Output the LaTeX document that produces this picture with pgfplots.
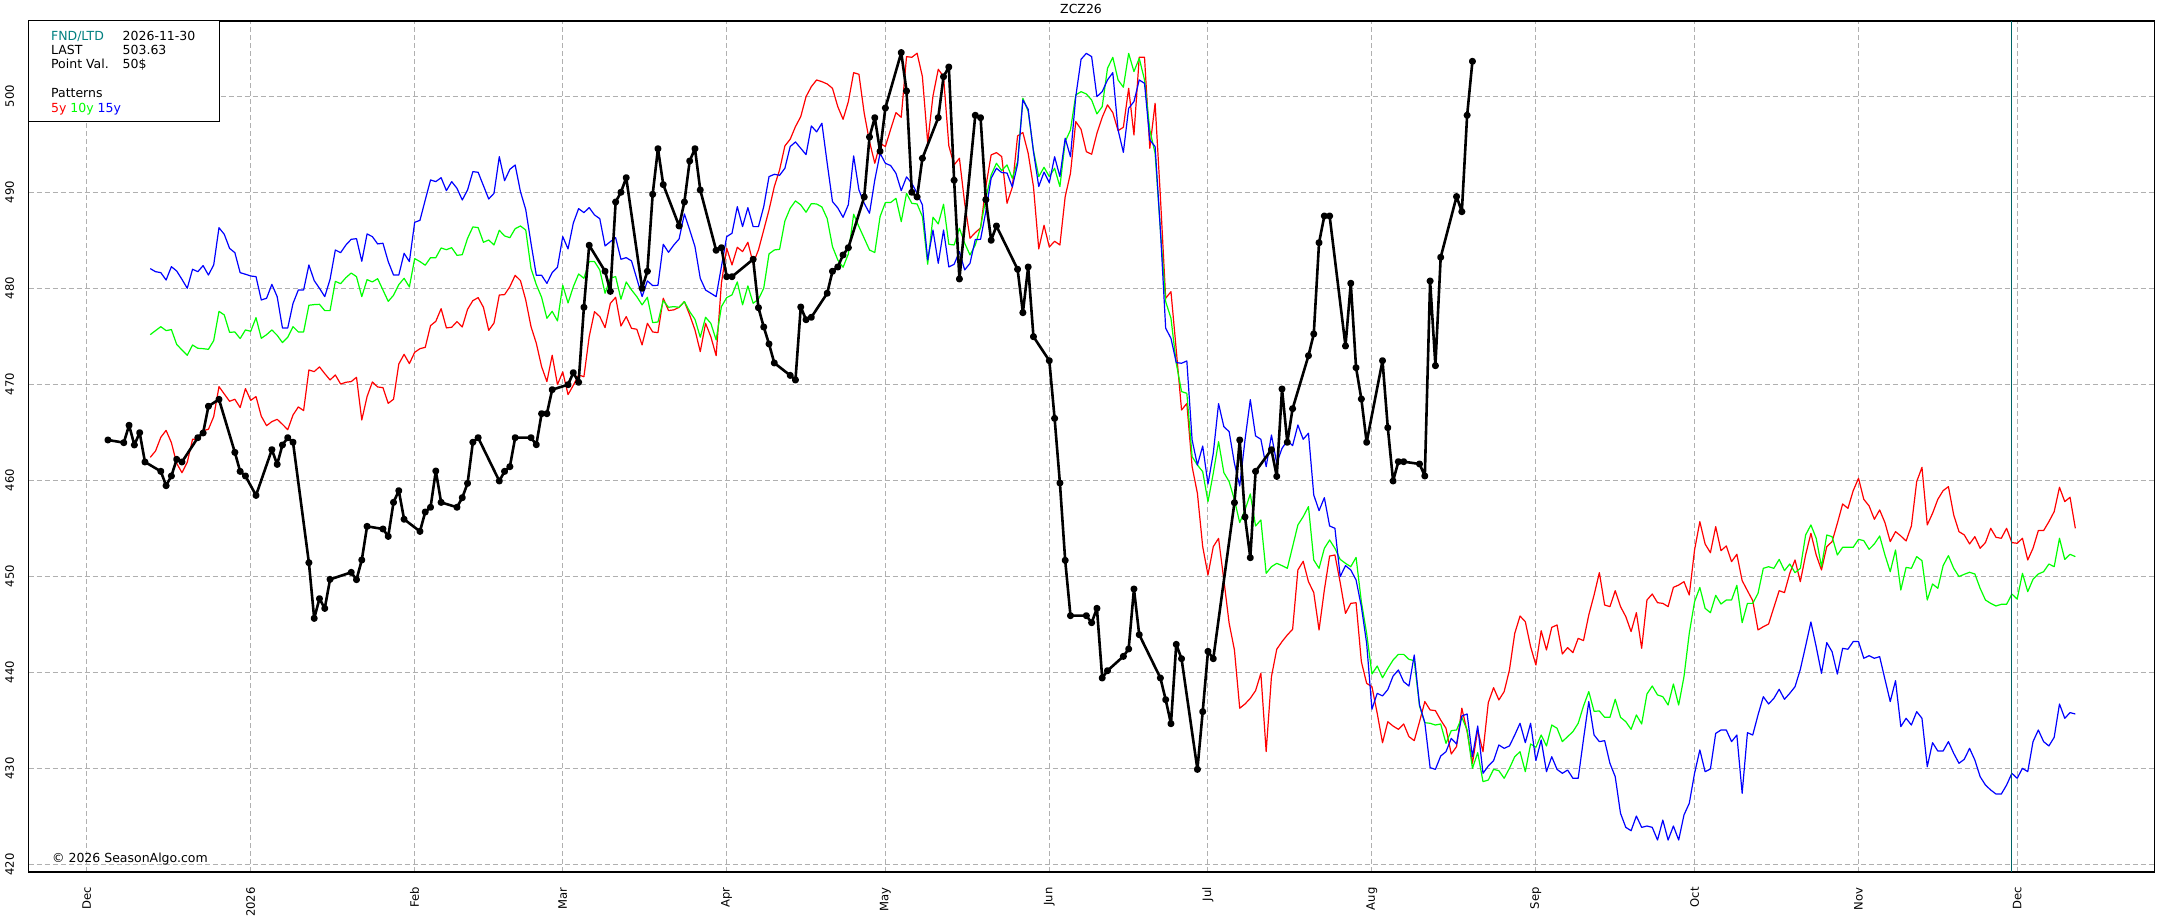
\documentclass[border=0pt]{standalone}
\usepackage{fontspec}
\setmainfont{DejaVu Sans}
\usepackage{pgfplots}
\pgfplotsset{compat=1.18}
\definecolor{cRed}{RGB}{255,0,0}
\definecolor{cGreen}{RGB}{0,255,0}
\definecolor{cBlue}{RGB}{0,0,255}
\definecolor{cTeal}{RGB}{0,128,128}
\definecolor{cLine}{RGB}{0,100,100}
\definecolor{cGrid}{RGB}{176,176,176}
\newcommand\legfont{\fontsize{6.25}{7.5}\selectfont}
\newcommand\tickfont{\fontsize{5.8}{7}\selectfont}
\begin{document}
\begin{tikzpicture}
\begin{axis}[
  scale only axis, width=1063pt, height=425.5pt,
  xmin=-10.98, xmax=391.01, ymin=419.2, ymax=507.84,
  clip=false,
  xtick={0,31,62,90,121,151,182,212,243,274,304,335,365},
  xticklabels={Dec,2026,Feb,Mar,Apr,May,Jun,Jul,Aug,Sep,Oct,Nov,Dec},
  ytick={420,430,...,500},
  major tick length=0pt,
  grid=major,
  major grid style={cGrid, line width=0.5pt, dash pattern=on 2.5pt off 1.5pt},
  axis line style={line width=0.75pt},
  tick label style={font=\tickfont},
  /pgf/number format/assume math mode=true,
  xticklabel style={yshift=-7.5pt, rotate=90, anchor=east, inner sep=0pt},
  yticklabel style={xshift=-7.35pt, rotate=90, anchor=base, inner sep=0pt},
]
% 5y
\addplot[cRed, line width=0.6pt, line join=round] table {
x y
12 462.39
13 463.05
14 464.48
15 465.20
16 463.92
17 461.77
18 460.79
19 461.87
20 464.27
21 464.27
22 465.17
23 465.31
24 466.63
25 469.76
26 468.99
27 468.23
28 468.44
29 467.57
30 469.55
31 468.33
32 468.72
33 466.67
34 465.69
35 466.11
36 466.35
37 465.83
38 465.27
39 466.80
40 467.64
41 467.26
42 471.49
43 471.32
44 471.81
45 471.11
46 470.45
47 470.97
48 470.03
49 470.21
50 470.28
51 470.73
52 466.28
53 468.72
54 470.24
55 469.72
56 469.65
57 468.02
58 468.44
59 472.12
60 473.12
61 472.15
62 473.33
63 473.71
64 473.85
65 476.11
66 476.56
67 477.88
68 475.87
69 475.94
70 476.53
71 475.97
72 477.81
73 478.71
74 479.03
75 478.02
76 475.62
77 476.38
78 479.30
79 479.34
80 480.17
81 481.35
82 480.80
83 478.78
84 476.00
85 474.27
86 471.84
87 470.28
88 473.02
89 469.97
90 471.29
91 468.92
92 469.90
93 470.97
94 470.79
95 474.96
96 477.56
97 477.05
98 475.90
99 478.43
100 479.06
101 476.07
102 477.05
103 475.83
104 475.73
105 474.10
106 476.35
107 475.45
108 475.38
109 478.96
110 477.68
111 477.75
112 478.02
113 478.61
114 477.22
115 475.66
116 473.40
117 476.35
118 474.96
119 472.98
120 480.52
121 484.17
122 482.43
123 484.27
124 483.82
125 484.79
126 482.60
127 483.99
128 486.07
129 488.16
130 490.59
131 492.33
132 494.83
133 495.52
134 496.84
135 497.88
136 499.96
137 501.00
138 501.70
139 501.52
140 501.28
141 500.83
142 498.92
143 497.60
144 499.44
145 502.46
146 502.29
147 498.23
148 495.28
149 493.02
150 495.10
151 494.76
152 496.56
153 498.30
154 497.81
155 504.13
156 504.06
157 504.48
158 502.05
159 495.17
160 500.03
161 502.81
162 502.05
163 494.83
164 492.85
165 493.54
166 488.85
167 485.21
168 485.80
169 486.28
170 490.59
171 493.89
172 494.13
173 493.72
174 488.85
175 490.52
176 495.87
177 496.22
178 494.06
179 490.59
180 484.10
181 486.56
182 484.30
183 484.90
184 484.51
185 489.55
186 491.98
187 497.36
188 496.56
189 494.23
190 493.96
191 496.14
192 497.81
193 499.10
194 498.30
195 496.42
196 496.77
197 500.83
198 495.97
199 504.06
200 504.06
201 494.58
202 499.27
203 489.55
204 478.96
205 479.65
206 473.57
207 467.32
208 468.00
209 461.42
210 458.64
211 453.09
212 450.14
213 453.09
214 453.95
215 449.62
216 445.11
217 442.33
218 436.26
219 436.70
220 437.29
221 438.09
222 439.90
223 431.74
224 439.55
225 442.40
226 443.20
227 443.89
228 444.48
229 450.66
230 451.56
231 449.44
232 448.30
233 444.41
234 448.57
235 452.11
236 452.22
237 449.34
238 446.14
239 447.18
240 447.25
241 441.11
242 438.85
243 438.50
244 435.72
245 432.67
246 434.85
247 434.40
248 434.06
249 434.62
250 433.30
251 432.88
252 434.86
253 436.95
254 436.08
255 436.01
256 435.03
257 434.17
258 431.49
259 432.26
260 436.26
261 433.82
262 430.52
263 433.99
264 431.73
265 436.84
266 438.40
267 437.12
268 437.99
269 440.24
270 444.05
271 445.86
272 445.27
273 442.67
274 440.76
275 444.33
276 442.33
277 444.68
278 444.93
279 441.91
280 442.57
281 442.05
282 443.54
283 443.30
284 445.97
285 448.05
286 450.38
287 447.01
288 446.84
289 448.50
290 446.84
291 445.80
292 444.24
293 446.21
294 442.50
295 447.53
296 448.15
297 447.25
298 447.18
299 446.84
300 448.85
301 449.09
302 449.44
303 448.05
304 452.74
305 455.69
306 453.36
307 452.46
308 455.17
309 452.67
310 453.16
311 451.53
312 452.29
313 449.55
314 448.50
315 447.46
316 444.41
317 444.75
318 445.03
319 446.77
320 448.50
321 448.30
322 450.31
323 451.70
324 449.44
325 452.22
326 454.48
327 452.22
328 450.66
329 453.09
330 453.61
331 455.52
332 457.53
333 457.08
334 458.92
335 460.21
336 458.02
337 457.33
338 455.94
339 456.91
340 455.59
341 453.61
342 454.65
343 454.20
344 453.68
345 455.24
346 459.86
347 461.35
348 455.35
349 456.56
350 458.02
351 458.92
352 459.34
353 456.39
354 454.65
355 454.31
356 453.37
357 454.13
358 452.92
359 453.51
360 455.00
361 454.06
362 453.96
363 455.00
364 453.51
365 453.44
366 453.96
367 451.70
368 452.92
369 454.76
370 454.76
371 455.69
372 456.74
373 459.27
374 457.78
375 458.23
376 455.00
};
% 10y
\addplot[cGreen, line width=0.6pt, line join=round] table {
x y
12 475.17
13 475.59
14 476.00
15 475.59
16 475.70
17 474.16
18 473.57
19 473.02
20 474.09
21 473.75
22 473.71
23 473.64
24 474.55
25 477.60
26 477.22
27 475.41
28 475.45
29 474.76
30 475.66
31 475.52
32 476.94
33 474.79
34 475.17
35 475.66
36 475.10
37 474.34
38 474.89
39 476.00
40 475.45
41 475.45
42 478.23
43 478.30
44 478.33
45 477.67
46 477.67
47 480.72
48 480.48
49 481.11
50 481.59
51 481.21
52 479.13
53 480.90
54 480.66
55 481.00
56 479.82
57 478.64
58 479.27
59 480.38
60 481.04
61 480.14
62 483.09
63 482.78
64 482.40
65 483.19
66 483.19
67 484.20
68 484.02
69 484.23
70 483.43
71 483.50
72 485.20
73 486.39
74 486.32
75 484.79
76 485.03
77 484.51
78 486.04
79 485.45
80 485.27
81 486.21
82 486.49
83 486.07
84 482.05
85 480.38
86 479.06
87 476.87
88 477.60
89 476.60
90 480.31
91 478.47
92 480.17
93 481.49
94 481.04
95 482.78
96 482.78
97 481.91
98 479.48
99 481.04
100 481.22
101 478.86
102 480.66
103 479.83
104 479.13
105 478.27
106 479.06
107 476.42
108 476.49
109 478.72
110 478.02
111 478.09
112 478.02
113 478.61
114 477.57
115 476.77
116 474.90
117 476.98
118 476.35
119 474.62
120 478.09
121 479.03
122 479.31
123 480.66
124 478.27
125 480.25
126 478.44
127 478.86
128 480.00
129 483.58
130 483.99
131 484.06
132 487.01
133 488.33
134 489.10
135 488.68
136 487.92
137 488.82
138 488.78
139 488.47
140 487.26
141 484.34
142 482.95
143 482.19
144 483.58
145 487.71
146 486.42
147 485.21
148 483.99
149 483.72
150 487.47
151 488.93
152 488.93
153 489.37
154 486.94
155 489.89
156 488.85
157 488.78
158 487.47
159 482.50
160 487.40
161 486.70
162 488.75
163 484.58
164 484.51
165 486.25
166 484.69
167 483.47
168 484.51
169 486.35
170 489.37
171 491.80
172 493.02
173 492.26
174 492.85
175 491.46
176 493.19
177 499.79
178 498.44
179 494.34
180 491.63
181 492.60
182 491.63
183 492.50
184 490.59
185 495.28
186 496.49
187 500.14
188 500.48
189 500.24
190 499.61
191 498.16
192 498.92
193 502.91
194 504.06
195 501.70
196 500.94
197 504.47
198 502.57
199 503.96
200 501.70
201 496.49
202 494.06
203 486.08
204 478.61
205 476.88
206 472.19
207 469.24
208 469.06
209 462.46
210 461.59
211 460.90
212 457.77
213 460.73
214 464.03
215 460.80
216 459.86
217 457.95
218 455.59
219 456.91
220 458.58
221 455.24
222 455.87
223 450.31
224 451.00
225 451.35
226 451.11
227 450.83
228 453.09
229 455.35
230 456.21
231 457.26
232 451.70
233 450.83
234 452.91
235 453.78
236 452.91
237 451.76
238 451.35
239 451.00
240 451.97
241 447.35
242 444.05
243 439.82
244 440.65
245 439.43
246 440.40
247 441.28
248 441.87
249 441.87
250 441.35
251 441.21
252 436.49
253 434.75
254 434.69
255 434.51
256 434.62
257 432.60
258 433.92
259 433.99
260 435.31
261 433.99
262 430.00
263 431.63
264 428.61
265 428.78
266 429.89
267 429.75
268 428.96
269 430.00
270 431.21
271 431.73
272 429.65
273 432.53
274 432.19
275 433.47
276 432.33
277 434.51
278 434.17
279 432.78
280 433.30
281 433.82
282 434.69
283 436.49
284 437.99
285 435.94
286 435.97
287 435.31
288 435.31
289 437.19
290 435.31
291 434.86
292 434.06
293 435.56
294 434.62
295 437.74
296 438.57
297 437.64
298 437.46
299 436.59
300 438.78
301 436.59
302 439.54
303 444.05
304 447.35
305 448.84
306 446.66
307 446.21
308 448.02
309 447.11
310 447.53
311 447.53
312 449.06
313 445.17
314 447.18
315 447.18
316 448.22
317 450.83
318 451.00
319 450.83
320 451.76
321 450.59
322 451.28
323 450.38
324 450.83
325 454.30
326 455.35
327 453.96
328 451.00
329 454.30
330 454.13
331 452.22
332 453.02
333 453.02
334 453.02
335 453.85
336 453.71
337 452.81
338 453.37
339 454.20
340 452.22
341 450.48
342 452.74
343 448.57
344 450.93
345 450.83
346 452.05
347 451.63
348 447.53
349 449.20
350 448.75
351 451.11
352 452.15
353 450.83
354 449.97
355 450.21
356 450.42
357 450.24
358 448.75
359 447.53
360 447.18
361 446.91
362 447.08
363 447.08
364 448.15
365 447.63
366 450.31
367 448.40
368 449.69
369 450.24
370 450.48
371 451.28
372 451.00
373 453.96
374 451.76
375 452.29
376 452.05
};
% 15y
\addplot[cBlue, line width=0.6pt, line join=round] table {
x y
12 482.05
13 481.73
14 481.63
15 480.86
16 482.25
17 481.80
18 480.93
19 480.00
20 481.98
21 481.73
22 482.36
23 481.38
24 482.43
25 486.31
26 485.62
27 484.16
28 483.71
29 481.63
30 481.46
31 481.28
32 481.21
33 478.78
34 478.96
35 480.41
36 479.13
37 475.86
38 475.86
39 478.43
40 479.82
41 479.82
42 482.43
43 480.80
44 480.00
45 479.13
46 480.93
47 483.99
48 483.71
49 484.51
50 485.10
51 485.17
52 482.81
53 485.66
54 485.38
55 484.62
56 484.69
57 482.78
58 481.38
59 481.38
60 483.64
61 482.78
62 486.87
63 487.08
64 489.20
65 491.28
66 491.11
67 491.52
68 490.17
69 491.11
70 490.41
71 489.20
72 490.24
73 492.15
74 492.08
75 490.69
76 489.30
77 489.89
78 493.71
79 491.21
80 492.39
81 492.84
82 490.07
83 488.20
84 484.68
85 481.35
86 481.35
87 480.51
88 481.63
89 482.19
90 485.38
91 484.10
92 486.80
93 488.30
94 487.88
95 488.40
96 487.64
97 487.25
98 484.41
99 484.86
100 485.27
101 483.02
102 483.19
103 482.85
104 481.00
105 479.13
106 480.77
107 480.28
108 480.31
109 484.58
110 483.75
111 484.51
112 485.14
113 487.74
114 486.08
115 484.34
116 481.04
117 479.82
118 479.48
119 479.13
120 482.26
121 485.38
122 485.73
123 488.50
124 486.42
125 488.40
126 486.42
127 486.42
128 488.50
129 491.63
130 491.87
131 491.77
132 492.50
133 494.76
134 495.24
135 494.58
136 493.92
137 496.91
138 496.29
139 497.19
140 493.02
141 489.03
142 488.37
143 487.39
144 488.71
145 493.79
146 490.24
147 488.85
148 487.81
149 491.28
150 494.06
151 493.02
152 492.78
153 491.98
154 490.17
155 491.60
156 490.93
157 489.89
158 488.68
159 482.95
160 486.07
161 482.60
162 486.07
163 482.22
164 482.50
165 483.82
166 481.91
167 482.60
168 485.07
169 485.10
170 488.02
171 491.46
172 492.50
173 492.05
174 492.01
175 490.55
176 492.92
177 499.62
178 498.64
179 494.24
180 490.60
181 492.10
182 491.00
183 493.70
184 491.63
185 495.63
186 493.71
187 499.96
188 503.85
189 504.47
190 504.13
191 499.96
192 500.48
193 501.70
194 502.46
195 496.49
196 494.16
197 498.75
198 499.44
199 501.70
200 501.35
201 495.45
202 494.76
203 486.08
204 475.84
205 474.79
206 472.26
207 472.19
208 472.43
209 464.20
210 461.59
211 463.57
212 459.61
213 462.81
214 467.98
215 465.58
216 465.07
217 461.77
218 459.41
219 464.20
220 468.40
221 464.62
222 464.27
223 461.42
224 464.72
225 461.77
226 463.33
227 464.13
228 463.61
229 465.76
230 464.27
231 464.90
232 458.47
233 456.84
234 458.19
235 455.24
236 455.00
237 449.97
238 451.11
239 450.66
240 449.62
241 446.84
242 443.02
243 436.15
244 437.81
245 437.54
246 438.20
247 439.61
248 440.24
249 439.02
250 438.57
251 441.80
252 436.59
253 434.75
254 430.07
255 429.89
256 431.28
257 431.73
258 433.12
259 432.53
260 435.45
261 435.66
262 431.21
263 434.41
264 429.48
265 430.24
266 430.80
267 432.43
268 432.08
269 432.33
270 433.47
271 434.69
272 432.67
273 434.69
274 430.80
275 432.95
276 429.65
277 431.21
278 429.89
279 429.48
280 429.82
281 428.96
282 428.96
283 433.02
284 436.95
285 433.47
286 432.78
287 432.88
288 430.52
289 429.13
290 425.31
291 423.85
292 423.50
293 425.03
294 423.85
295 423.99
296 423.85
297 422.53
298 424.61
299 422.53
300 423.99
301 422.53
302 425.14
303 426.35
304 429.48
305 431.91
306 429.65
307 429.93
308 433.64
309 433.99
310 433.99
311 432.78
312 433.47
313 427.40
314 433.71
315 433.47
316 435.56
317 437.46
318 436.70
319 437.29
320 438.23
321 437.19
322 437.81
323 438.50
324 440.31
325 442.74
326 445.24
327 442.67
328 439.89
329 443.09
330 442.15
331 439.82
332 442.50
333 442.40
334 443.20
335 443.20
336 441.46
337 441.73
338 441.46
339 441.63
340 439.27
341 436.95
342 439.13
343 434.34
344 435.21
345 434.51
346 435.90
347 435.21
348 430.17
349 432.67
350 431.80
351 431.80
352 432.78
353 431.56
354 430.52
355 430.94
356 432.08
357 430.86
358 429.13
359 428.26
360 427.74
361 427.32
362 427.32
363 428.26
364 429.48
365 428.96
366 430.00
367 429.65
368 432.78
369 433.99
370 432.78
371 432.33
372 433.23
373 436.70
374 435.21
375 435.80
376 435.66
};
% current contract
\addplot[black, line width=1.3pt, line join=round, mark=*, mark size=1.1pt, mark options={solid, fill=black}] table {
x y
4 464.20
7 463.92
8 465.73
9 463.68
10 464.96
11 461.91
14 460.93
15 459.44
16 460.45
17 462.18
18 461.91
21 464.44
22 464.93
23 467.71
25 468.43
28 462.91
29 460.93
30 460.45
32 458.43
35 463.19
36 461.66
37 463.68
38 464.44
39 463.96
42 451.42
43 445.62
44 447.67
45 446.66
46 449.68
50 450.41
51 449.65
52 451.70
53 455.20
56 454.93
57 454.16
58 457.70
59 458.92
60 455.94
63 454.68
64 456.70
65 457.19
66 460.97
67 457.70
70 457.19
71 458.19
72 459.68
73 463.96
74 464.44
78 459.93
79 460.93
80 461.42
81 464.44
84 464.44
85 463.71
86 466.94
87 466.94
88 469.44
91 469.96
92 471.21
93 470.21
94 478.02
95 484.48
98 481.77
99 479.68
100 488.99
101 490.00
102 491.52
105 480.00
106 481.77
107 489.79
108 494.54
109 490.80
112 486.49
113 488.99
114 493.26
115 494.54
116 490.24
119 483.96
120 484.23
121 481.21
122 481.21
126 483.02
127 477.98
128 475.97
129 474.20
130 472.22
133 470.93
134 470.45
135 478.05
136 476.73
137 476.98
140 479.48
141 481.77
142 482.22
143 483.47
144 484.23
147 489.51
148 495.76
149 497.77
150 494.27
151 498.78
154 504.55
155 500.55
156 490.00
157 489.51
158 493.54
161 497.77
162 502.04
163 503.05
164 491.25
165 480.97
168 498.02
169 497.77
170 489.23
171 485.00
172 486.49
176 481.98
177 477.46
178 482.22
179 474.96
182 472.46
183 466.45
184 459.72
185 451.66
186 445.90
189 445.90
190 445.17
191 446.66
192 439.41
193 440.17
196 441.66
197 442.43
198 448.68
199 443.92
203 439.41
204 437.15
205 434.65
206 442.91
207 441.42
210 429.89
211 435.90
212 442.18
213 441.42
217 457.67
218 464.20
219 456.18
220 451.94
221 460.93
224 463.19
225 460.41
226 469.51
227 463.96
228 467.46
231 472.98
232 475.24
233 484.75
234 487.53
235 487.53
238 473.99
239 480.52
240 471.73
241 468.47
242 463.96
245 472.46
246 465.48
247 459.93
248 461.94
249 461.94
252 461.70
253 460.45
254 480.76
255 471.94
256 483.23
259 489.55
260 487.98
261 498.02
262 503.64
};
% FND/LTD marker line
\draw[cLine, line width=0.5pt] (axis cs:364,419.2) -- (axis cs:364,507.84);
% info box
\draw[line width=0.5pt, fill=white] (rel axis cs:0,1) rectangle (axis cs:25.06,497.32);
\node[anchor=base west, inner sep=0pt, font=\legfont, text=cTeal] at ([xshift=11pt,yshift=-9.83pt]rel axis cs:0,1) {FND/LTD};
\node[anchor=base west, inner sep=0pt, font=\legfont] at ([xshift=46.8pt,yshift=-9.83pt]rel axis cs:0,1) {2026-11-30};
\node[anchor=base west, inner sep=0pt, font=\legfont] at ([xshift=11pt,yshift=-16.83pt]rel axis cs:0,1) {LAST};
\node[anchor=base west, inner sep=0pt, font=\legfont] at ([xshift=46.8pt,yshift=-16.83pt]rel axis cs:0,1) {503.63};
\node[anchor=base west, inner sep=0pt, font=\legfont] at ([xshift=11pt,yshift=-23.83pt]rel axis cs:0,1) {Point Val.};
\node[anchor=base west, inner sep=0pt, font=\legfont] at ([xshift=46.8pt,yshift=-23.83pt]rel axis cs:0,1) {50\$};
\node[anchor=base west, inner sep=0pt, font=\legfont] at ([xshift=11pt,yshift=-38.5pt]rel axis cs:0,1) {Patterns};
\node[anchor=base west, inner sep=0pt, font=\legfont] at ([xshift=11pt,yshift=-45.83pt]rel axis cs:0,1) {\textcolor{cRed}{5y} \textcolor{cGreen}{10y} \textcolor{cBlue}{15y}};
% title and credit
\node[anchor=base, inner sep=0pt, font=\legfont] at ([yshift=3.5pt]rel axis cs:0.495,1) {ZCZ26};
\node[anchor=base west, inner sep=0pt, font=\legfont] at ([xshift=11.5pt,yshift=4.65pt]rel axis cs:0,0) {© 2026 SeasonAlgo.com};
\end{axis}
\pgfresetboundingbox
\path[use as bounding box] (-14.35pt,-24pt) rectangle (1066.65pt,436pt);
\end{tikzpicture}
\end{document}
